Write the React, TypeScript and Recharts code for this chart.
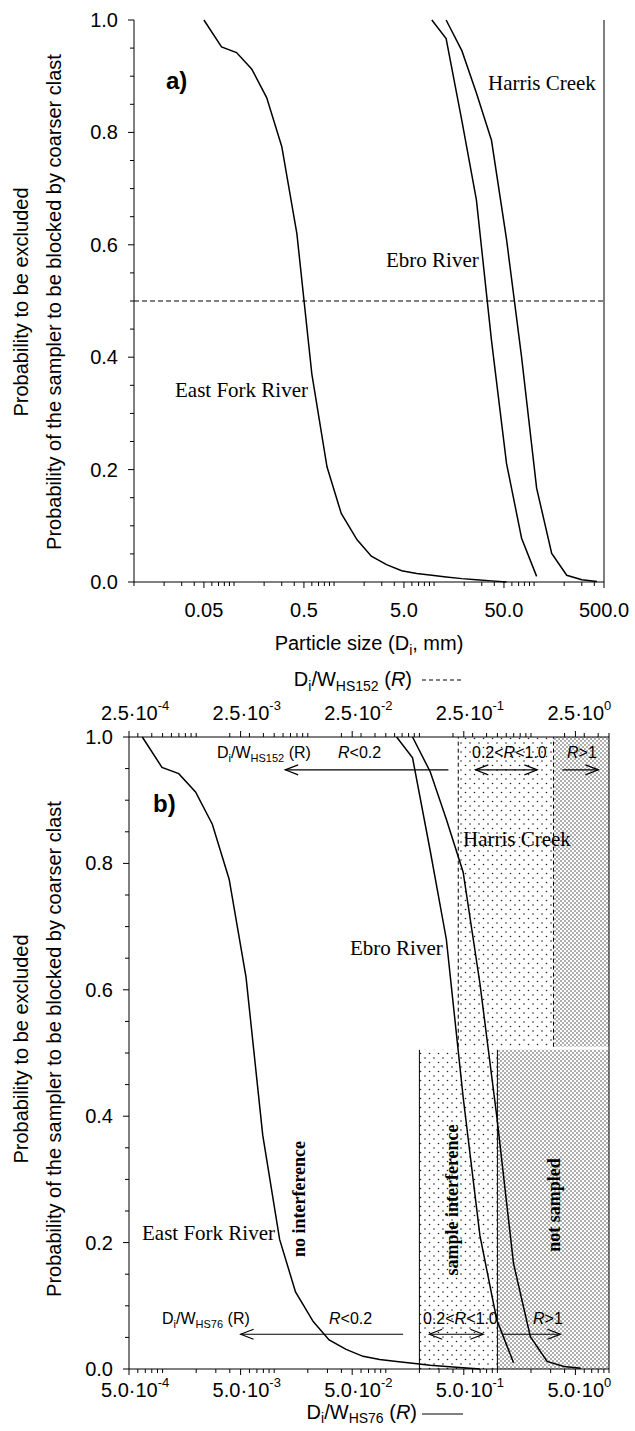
import React from "react";
import { LineChart, Line, XAxis, YAxis, ReferenceLine, ReferenceArea } from "recharts";

const SANS = "'Liberation Sans', Arial, sans-serif";
const SERIF = "'Liberation Serif', 'Times New Roman', serif";

// probability to be excluded vs particle size (mm)
const eastForkSize = [0.05, 0.075, 0.106, 0.15, 0.212, 0.3, 0.425, 0.6, 0.85, 1.18, 1.7, 2.36, 3.35, 4.75, 6.7, 9.5, 13.2, 19, 26.5, 37.5, 53];
const eastForkProb = [1.0, 0.952, 0.942, 0.913, 0.862, 0.775, 0.62, 0.37, 0.205, 0.122, 0.075, 0.046, 0.031, 0.02, 0.015, 0.012, 0.009, 0.006, 0.004, 0.002, 0.0];
const ebroSize = [9.5, 13.2, 19, 26.5, 37.5, 53, 75, 106];
const ebroProb = [1.0, 0.967, 0.82, 0.68, 0.43, 0.211, 0.078, 0.01];
const harrisSize = [13.2, 19, 26.5, 37.5, 53, 75, 106, 150, 212, 300, 425];
const harrisProb = [1.0, 0.945, 0.87, 0.786, 0.61, 0.4, 0.167, 0.051, 0.012, 0.004, 0.001];

// sampler width (mm) for panel b, R = Di / W_HS76
const W_HS76 = 76;

// axes
const aDomain = [0.01, 500];
const aMajor = [0.05, 0.5, 5, 50, 500];
const aMajorLabels = ["0.05", "0.5", "5.0", "50.0", "500.0"];
const bBottomDomain = [5e-4, 10];
const bBottomMajor = [5e-4, 5e-3, 5e-2, 5e-1, 5];
const bTopDomain = [2.5e-4, 5];
const bTopMajor = [2.5e-4, 2.5e-3, 2.5e-2, 2.5e-1, 2.5];
const bExponents = ["-4", "-3", "-2", "-1", "0"];
const yTicks = [0, 0.05, 0.1, 0.15, 0.2, 0.25, 0.3, 0.35, 0.4, 0.45, 0.5, 0.55, 0.6, 0.65, 0.7, 0.75, 0.8, 0.85, 0.9, 0.95, 1.0];
const yMajor = [0, 0.2, 0.4, 0.6, 0.8, 1.0];
const yMajorLabels = ["0.0", "0.2", "0.4", "0.6", "0.8", "1.0"];

// shaded zones in panel b: [light start, dense start, dense end]
const upperZone = [0.223, 1.59, 5]; // on the HS152 (top) axis
const upperZoneY = [0.51, 1.0];
const lowerZone = [0.2, 1.0, 10]; // on the HS76 (bottom) axis
const lowerZoneY = [0, 0.505];

// arrows in panel b
const upperArrowSpans = [[0.00627, 0.182], [0.317, 1.14], [1.91, 4.02]];
const lowerArrowSpans = [[0.005, 0.143], [0.245, 0.748], [1.107, 3.67]];
const arrowHeads = ["start", "both", "end"];
const upperArrowY = 0.948;
const lowerArrowY = 0.055;

function logTicks(lo: number, hi: number, majors: number[]) {
  const out: number[] = [...majors];
  for (let e = Math.floor(Math.log10(lo)); e <= Math.ceil(Math.log10(hi)); e++) {
    for (let m = 1; m <= 9; m++) {
      const v = m * Math.pow(10, e);
      if (v < lo * 0.999 || v > hi * 1.001) continue;
      if (out.some((o) => Math.abs(o - v) <= o * 1e-6)) continue;
      out.push(v);
    }
  }
  return out.sort((a, b) => a - b);
}

function toPoints(sizes: number[], probs: number[], w: number) {
  return sizes.map((s, i) => ({ x: s / w, y: probs[i] }));
}

type Side = "top" | "bottom" | "left" | "right";
interface TickSpec {
  side: Side;
  majors: number[];
  majorLen: number;
  minorLen: number;
  outward: boolean;
  label?: (i: number, x: number, y: number) => React.ReactNode;
}

function AxisTick(props: any) {
  const { x, y, payload, spec } = props;
  const s: TickSpec = spec;
  const v = payload.value;
  const i = s.majors.findIndex((m) => Math.abs(m - v) <= Math.abs(m) * 1e-6);
  const len = (i >= 0 ? s.majorLen : s.minorLen) * (s.outward ? 1 : -1);
  let x2 = x;
  let y2 = y;
  if (s.side === "bottom") y2 = y + len;
  if (s.side === "top") y2 = y - len;
  if (s.side === "left") x2 = x - len;
  if (s.side === "right") x2 = x + len;
  return (
    <g>
      <line x1={x} y1={y} x2={x2} y2={y2} stroke="#000" strokeWidth={1} />
      {i >= 0 && s.label ? s.label(i, x, y) : null}
    </g>
  );
}

const tickText = { fontFamily: SANS, fontSize: 20, fill: "#000" };

const yLabel = (i: number, x: number, y: number) => (
  <text x={x - 16} y={y + 7} textAnchor="end" {...tickText}>{yMajorLabels[i]}</text>
);

const aBottomLabel = (i: number, x: number, y: number) => (
  <text x={x} y={y + 35} textAnchor="middle" {...tickText}>{aMajorLabels[i]}</text>
);

const powLabel = (mant: string, dy: number) => (i: number, x: number, y: number) => (
  <text x={x - 28} y={y + dy} {...tickText}>
    {mant}·10<tspan dy={-10} fontSize={13}>{bExponents[i]}</tspan>
  </text>
);

function ArrowShape(props: any) {
  const { x1, y1, x2, y2, heads } = props;
  const h = 13;
  const w = 5;
  const left = Math.min(x1, x2);
  const right = Math.max(x1, x2);
  const y = (y1 + y2) / 2;
  return (
    <g stroke="#000" strokeWidth={1.1} fill="none">
      <line x1={left} y1={y} x2={right} y2={y} />
      {heads !== "end" && <polyline points={`${left + h},${y - w} ${left},${y} ${left + h},${y + w}`} />}
      {heads !== "start" && <polyline points={`${right - h},${y - w} ${right},${y} ${right - h},${y + w}`} />}
    </g>
  );
}

const axisLine = { stroke: "#000", strokeWidth: 1 };

function tickProp(spec: TickSpec) {
  return (p: any) => <AxisTick {...p} spec={spec} />;
}

function PanelA() {
  const ticks = logTicks(aDomain[0], aDomain[1], aMajor);
  return (
    <LineChart width={635} height={640} margin={{ top: 20, right: 21, bottom: 28, left: 74 }}>
      <XAxis xAxisId="b" dataKey="x" type="number" scale="log" domain={aDomain} allowDataOverflow
        ticks={ticks} interval={0} height={30} tickSize={0} tickMargin={0} tickLine={false} axisLine={axisLine}
        tick={tickProp({ side: "bottom", majors: aMajor, majorLen: 6, minorLen: 4, outward: true, label: aBottomLabel })} />
      <XAxis xAxisId="t" orientation="top" dataKey="x" type="number" scale="log" domain={aDomain} allowDataOverflow
        ticks={ticks} interval={0} height={0} tickSize={0} tickMargin={0} tickLine={false} axisLine={axisLine}
        tick={tickProp({ side: "top", majors: aMajor, majorLen: 4, minorLen: 3, outward: false })} />
      <YAxis yAxisId="l" type="number" domain={[0, 1]} ticks={yTicks} interval={0} width={60}
        tickSize={0} tickMargin={0} tickLine={false} axisLine={axisLine}
        tick={tickProp({ side: "left", majors: yMajor, majorLen: 6, minorLen: 4, outward: true, label: yLabel })} />
      <YAxis yAxisId="r" orientation="right" type="number" domain={[0, 1]} ticks={yTicks} interval={0} width={10}
        tickSize={0} tickMargin={0} tickLine={false} axisLine={axisLine}
        tick={tickProp({ side: "right", majors: yMajor, majorLen: 4, minorLen: 3, outward: false })} />
      <ReferenceLine xAxisId="b" yAxisId="l" y={0.5} stroke="#000" strokeWidth={1} strokeDasharray="5 3" />
      <Line xAxisId="b" yAxisId="l" data={toPoints(eastForkSize, eastForkProb, 1)} dataKey="y" type="linear"
        stroke="#000" strokeWidth={1.5} dot={false} activeDot={false} isAnimationActive={false} />
      <Line xAxisId="b" yAxisId="l" data={toPoints(ebroSize, ebroProb, 1)} dataKey="y" type="linear"
        stroke="#000" strokeWidth={1.5} dot={false} activeDot={false} isAnimationActive={false} />
      <Line xAxisId="b" yAxisId="l" data={toPoints(harrisSize, harrisProb, 1)} dataKey="y" type="linear"
        stroke="#000" strokeWidth={1.5} dot={false} activeDot={false} isAnimationActive={false} />
    </LineChart>
  );
}

function PanelB() {
  const bottomTicks = logTicks(bBottomDomain[0], bBottomDomain[1], bBottomMajor);
  const topTicks = logTicks(bTopDomain[0], bTopDomain[1], bTopMajor);
  return (
    <LineChart width={635} height={771} margin={{ top: 27, right: 16, bottom: 32, left: 69 }}>
      <XAxis xAxisId="b" dataKey="x" type="number" scale="log" domain={bBottomDomain} allowDataOverflow
        ticks={bottomTicks} interval={0} height={30} tickSize={0} tickMargin={0} tickLine={false} axisLine={axisLine}
        tick={tickProp({ side: "bottom", majors: bBottomMajor, majorLen: 6, minorLen: 4, outward: true, label: powLabel("5.0", 28) })} />
      <XAxis xAxisId="t" orientation="top" dataKey="x" type="number" scale="log" domain={bTopDomain} allowDataOverflow
        ticks={topTicks} interval={0} height={50} tickSize={0} tickMargin={0} tickLine={false} axisLine={axisLine}
        tick={tickProp({ side: "top", majors: bTopMajor, majorLen: 6, minorLen: 4, outward: true, label: powLabel("2.5", -17) })} />
      <YAxis yAxisId="l" type="number" domain={[0, 1]} ticks={yTicks} interval={0} width={60}
        tickSize={0} tickMargin={0} tickLine={false} axisLine={axisLine}
        tick={tickProp({ side: "left", majors: yMajor, majorLen: 6, minorLen: 4, outward: true, label: yLabel })} />
      <YAxis yAxisId="r" orientation="right" type="number" domain={[0, 1]} ticks={yTicks} interval={0} width={10}
        tickSize={0} tickMargin={0} tickLine={false} axisLine={axisLine}
        tick={tickProp({ side: "right", majors: yMajor, majorLen: 4, minorLen: 4, outward: true })} />

      {/* HS152 zones (top axis) */}
      <ReferenceArea xAxisId="t" yAxisId="l" x1={upperZone[0]} x2={upperZone[1]} y1={upperZoneY[0]} y2={upperZoneY[1]}
        fill="url(#dotsLight)" fillOpacity={1} stroke="none" ifOverflow="hidden" />
      <ReferenceArea xAxisId="t" yAxisId="l" x1={upperZone[1]} x2={upperZone[2]} y1={upperZoneY[0]} y2={upperZoneY[1]}
        fill="url(#dotsDense)" fillOpacity={1} stroke="none" ifOverflow="hidden" />
      {upperZone.slice(0, 2).map((v) => (
        <ReferenceLine key={"u" + v} xAxisId="t" yAxisId="l" segment={[{ x: v, y: upperZoneY[0] }, { x: v, y: upperZoneY[1] }]}
          stroke="#000" strokeWidth={1} strokeDasharray="4 3" ifOverflow="visible" />
      ))}

      {/* HS76 zones (bottom axis) */}
      <ReferenceArea xAxisId="b" yAxisId="l" x1={lowerZone[0]} x2={lowerZone[1]} y1={lowerZoneY[0]} y2={lowerZoneY[1]}
        fill="url(#dotsLight)" fillOpacity={1} stroke="none" ifOverflow="hidden" />
      <ReferenceArea xAxisId="b" yAxisId="l" x1={lowerZone[1]} x2={lowerZone[2]} y1={lowerZoneY[0]} y2={lowerZoneY[1]}
        fill="url(#dotsDense)" fillOpacity={1} stroke="none" ifOverflow="hidden" />
      {lowerZone.slice(0, 2).map((v) => (
        <ReferenceLine key={"l" + v} xAxisId="b" yAxisId="l" segment={[{ x: v, y: lowerZoneY[0] }, { x: v, y: lowerZoneY[1] }]}
          stroke="#000" strokeWidth={1} ifOverflow="visible" />
      ))}

      {upperArrowSpans.map((s, i) => (
        <ReferenceLine key={"ua" + i} xAxisId="t" yAxisId="l" segment={[{ x: s[0], y: upperArrowY }, { x: s[1], y: upperArrowY }]}
          ifOverflow="visible" shape={(p: any) => <ArrowShape {...p} heads={arrowHeads[i]} />} />
      ))}
      {lowerArrowSpans.map((s, i) => (
        <ReferenceLine key={"la" + i} xAxisId="b" yAxisId="l" segment={[{ x: s[0], y: lowerArrowY }, { x: s[1], y: lowerArrowY }]}
          ifOverflow="visible" shape={(p: any) => <ArrowShape {...p} heads={arrowHeads[i]} />} />
      ))}

      <Line xAxisId="b" yAxisId="l" data={toPoints(eastForkSize, eastForkProb, W_HS76)} dataKey="y" type="linear"
        stroke="#000" strokeWidth={1.5} dot={false} activeDot={false} isAnimationActive={false} />
      <Line xAxisId="b" yAxisId="l" data={toPoints(ebroSize, ebroProb, W_HS76)} dataKey="y" type="linear"
        stroke="#000" strokeWidth={1.5} dot={false} activeDot={false} isAnimationActive={false} />
      <Line xAxisId="b" yAxisId="l" data={toPoints(harrisSize, harrisProb, W_HS76)} dataKey="y" type="linear"
        stroke="#000" strokeWidth={1.5} dot={false} activeDot={false} isAnimationActive={false} />
    </LineChart>
  );
}

function Ratio({ x, y, size, sub, italicR, anchor, shift }: any) {
  const d = shift ?? Math.round(size * 0.25);
  const subSize = Math.round(size * 0.68);
  return (
    <text x={x} y={y} textAnchor={anchor || "start"} fontFamily={SANS} fontSize={size} fill="#000">
      D<tspan dy={d} fontSize={subSize}>i</tspan>
      <tspan dy={-d}>/W</tspan>
      <tspan dy={d} fontSize={subSize}>{sub}</tspan>
      <tspan dy={-d}> (</tspan>
      <tspan fontStyle={italicR ? "italic" : "normal"}>R</tspan>)
    </text>
  );
}

function RLabel({ x, y, text }: { x: number; y: number; text: string }) {
  const parts = text.split("R");
  return (
    <text x={x} y={y} fontFamily={SANS} fontSize={16} fill="#000">
      {parts[0]}<tspan fontStyle="italic">R</tspan>{parts[1]}
    </text>
  );
}

function Overlay() {
  const serif = { fontFamily: SERIF, fontSize: 21, fill: "#000" };
  const bold = { fontFamily: SERIF, fontSize: 18, fontWeight: 700, fill: "#000", textAnchor: "middle" as const };
  const ylab = { fontFamily: SANS, fontSize: 20, fill: "#000", textAnchor: "middle" as const };
  return (
    <svg width={635} height={1431} style={{ position: "absolute", left: 0, top: 0, pointerEvents: "none" }}>
      <defs>
        <pattern id="dotsLight" width={9} height={9} patternUnits="userSpaceOnUse">
          <circle cx={2} cy={2} r={0.8} fill="#222" />
          <circle cx={6.5} cy={6.5} r={0.8} fill="#222" />
        </pattern>
        <pattern id="dotsDense" width={4} height={4} patternUnits="userSpaceOnUse">
          <circle cx={1} cy={1} r={0.75} fill="#333" />
          <circle cx={3} cy={3} r={0.75} fill="#333" />
        </pattern>
      </defs>

      {/* y axis titles */}
      <text transform="translate(28,302) rotate(-90)" {...ylab}>Probability to be excluded</text>
      <text transform="translate(61,302) rotate(-90)" {...ylab}>Probability of the sampler to be blocked by coarser clast</text>
      <text transform="translate(28,1049) rotate(-90)" {...ylab}>Probability to be excluded</text>
      <text transform="translate(61,1049) rotate(-90)" {...ylab}>Probability of the sampler to be blocked by coarser clast</text>

      {/* panel a */}
      <text x={166} y={89} fontFamily={SANS} fontSize={24} fontWeight={700}>a)</text>
      <text x={488} y={90} {...serif}>Harris Creek</text>
      <text x={386} y={267} {...serif}>Ebro River</text>
      <text x={175} y={397} {...serif}>East Fork River</text>
      <text x={369} y={650} textAnchor="middle" fontFamily={SANS} fontSize={20}>
        Particle size (D<tspan dy={5} fontSize={14}>i</tspan><tspan dy={-5}>, mm)</tspan>
      </text>

      {/* panel b axis titles */}
      <Ratio x={412} y={686} size={20} sub="HS152" italicR anchor="end" />
      <line x1={422} x2={463} y1={680} y2={680} stroke="#000" strokeWidth={1} strokeDasharray="4 3" />
      <Ratio x={417} y={1419} size={20} sub="HS76" italicR anchor="end" shift={4} />
      <line x1={422} x2={463} y1={1414} y2={1414} stroke="#000" strokeWidth={1} />

      {/* panel b annotations */}
      <text x={153} y={812} fontFamily={SANS} fontSize={24} fontWeight={700}>b)</text>
      <Ratio x={217} y={758} size={16} sub="HS152" />
      <RLabel x={338} y={758} text="R<0.2" />
      <RLabel x={472} y={758} text="0.2<R<1.0" />
      <RLabel x={567} y={758} text="R>1" />
      <Ratio x={162} y={1324} size={16} sub="HS76" />
      <RLabel x={329} y={1324} text="R<0.2" />
      <RLabel x={423} y={1324} text="0.2<R<1.0" />
      <RLabel x={533} y={1324} text="R>1" />

      <text x={463} y={846} {...serif}>Harris Creek</text>
      <text x={350} y={955} {...serif}>Ebro River</text>
      <text x={142} y={1240} {...serif}>East Fork River</text>

      <text transform="translate(305,1199) rotate(-90)" {...bold}>no interference</text>
      <text transform="translate(458,1200) rotate(-90)" {...bold}>sample interference</text>
      <text transform="translate(560,1205) rotate(-90)" {...bold}>not sampled</text>
    </svg>
  );
}

export default function App() {
  return (
    <div style={{ position: "absolute", left: 0, top: 0, width: 635, height: 1431, background: "#fff", fontFamily: SANS }}>
      <div style={{ position: "absolute", left: 0, top: 0 }}>
        <PanelA />
      </div>
      <div style={{ position: "absolute", left: 0, top: 660 }}>
        <PanelB />
      </div>
      <Overlay />
    </div>
  );
}
